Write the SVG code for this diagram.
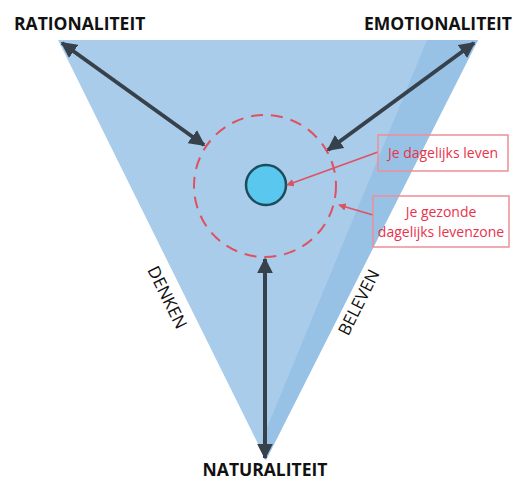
<svg xmlns="http://www.w3.org/2000/svg" width="522" height="482" viewBox="0 0 522 482">
<defs>
<style>
.lbl{font-family:"Open Sans","Liberation Sans",sans-serif;font-weight:bold;font-size:17.5px;fill:#111}
.side{font-family:"Open Sans","Liberation Sans",sans-serif;font-size:17px;fill:#111}
.red{font-family:"Open Sans","Liberation Sans",sans-serif;font-size:14px;fill:#e8334a}
.arr{stroke:#36414c;stroke-width:4;fill:none;marker-start:url(#ah);marker-end:url(#ah)}
.ptr{stroke:#e0505f;stroke-width:1.5;fill:none;marker-end:url(#rh)}
.box{fill:none;stroke:#ee8e98;stroke-width:1.5}
</style>
<marker id="ah" viewBox="0 0 10 10" refX="9" refY="5" markerWidth="4" markerHeight="4" orient="auto-start-reverse"><path d="M0,0L10,5L0,10z" fill="#36414c"/></marker>
<marker id="rh" viewBox="0 0 10 10" refX="9" refY="5" markerWidth="5" markerHeight="5" orient="auto"><path d="M0,0L10,5L0,10z" fill="#e0505f"/></marker>
</defs>
<g id="triangle">
<polygon points="58,40 478,40 266,460" fill="#a8cce9"/>
<polygon points="427,40 478,40 266,460 262,440" fill="#98c2e5"/>
</g>
<g id="zone">
<circle cx="265" cy="186" r="71" fill="none" stroke="#e0505f" stroke-width="2" stroke-dasharray="12,8"/>
</g>
<g id="center">
<circle cx="266" cy="185" r="20" fill="#5ac8ee" stroke="#1d4d5c" stroke-width="2.5"/>
</g>
<g id="connectors">
<line class="arr" x1="62" y1="43" x2="204" y2="145"/>
<line class="arr" x1="474" y1="43" x2="328" y2="150"/>
<line class="arr" x1="265" y1="259" x2="265" y2="458"/>
<line class="ptr" x1="378" y1="152" x2="287" y2="185"/>
<line class="ptr" x1="373" y1="215" x2="339" y2="205"/>
</g>
<g id="rationaliteit"><text class="lbl" x="14" y="30">RATIONALITEIT</text></g>
<g id="emotionaliteit"><text class="lbl" x="512" y="30" text-anchor="end">EMOTIONALITEIT</text></g>
<g id="naturaliteit"><text class="lbl" x="265" y="476" text-anchor="middle">NATURALITEIT</text></g>
<g id="denken"><text class="side" transform="translate(166,298) rotate(63.7)" text-anchor="middle" dominant-baseline="middle">DENKEN</text></g>
<g id="beleven"><text class="side" transform="translate(360,303) rotate(-63.5)" text-anchor="middle" dominant-baseline="middle">BELEVEN</text></g>
<g id="label1">
<rect class="box" x="378" y="135" width="130" height="36"/>
<text class="red" x="443" y="158" text-anchor="middle">Je dagelijks leven</text>
</g>
<g id="label2">
<rect class="box" x="373" y="196" width="136" height="51"/>
<text class="red" x="441" y="217" text-anchor="middle">Je gezonde</text>
<text class="red" x="441" y="237" text-anchor="middle">dagelijks levenzone</text>
</g>
</svg>
